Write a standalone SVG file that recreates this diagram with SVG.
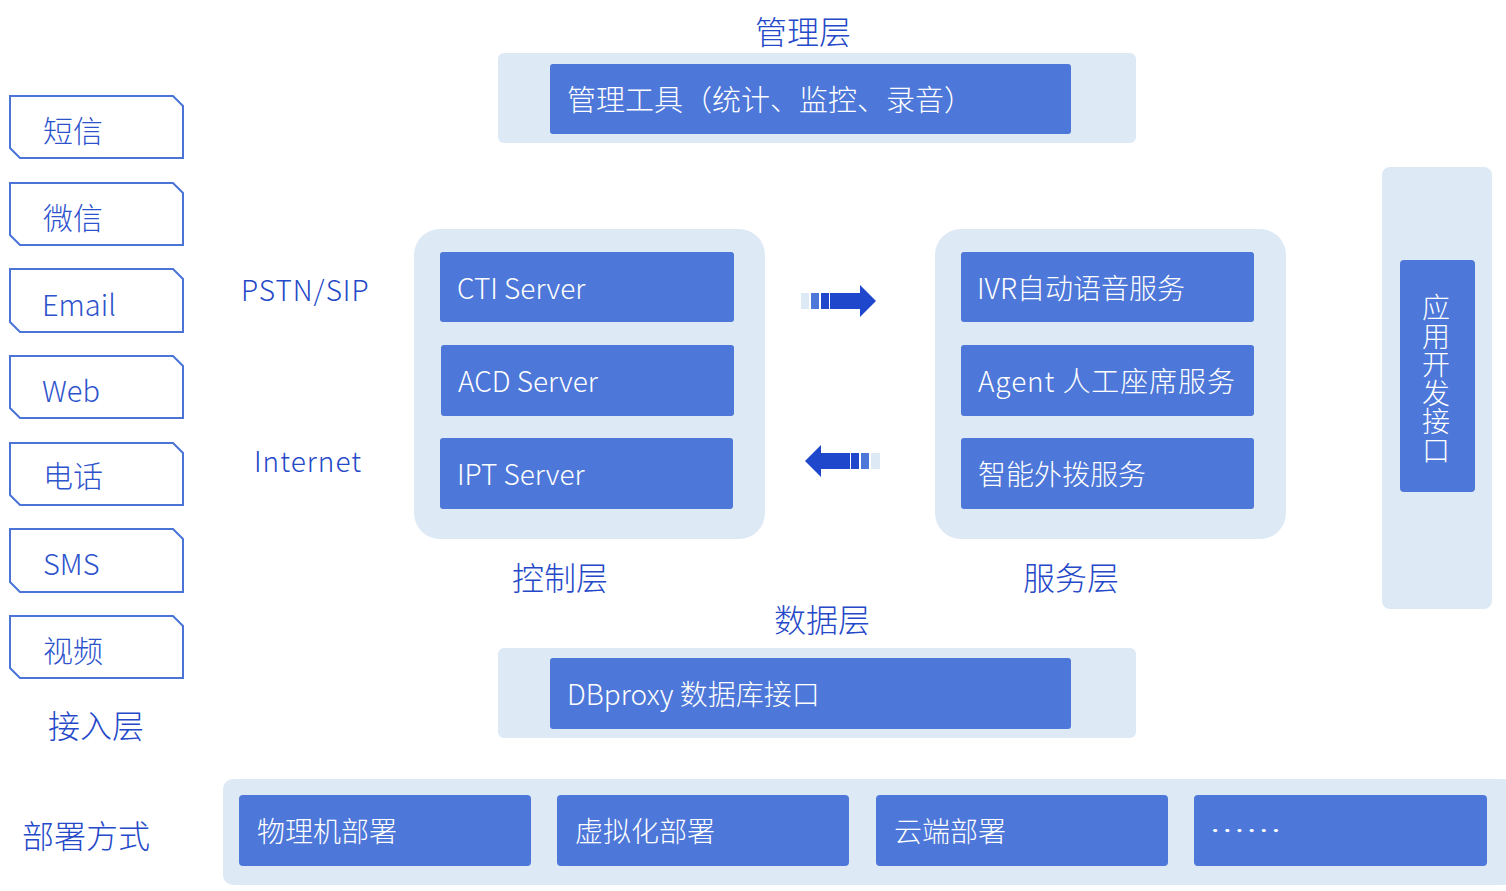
<svg xmlns="http://www.w3.org/2000/svg" width="1506" height="891" viewBox="0 0 1506 891">
<style>
.bg{fill:#DDE9F5}
.box{fill:#4D77D8}
.wt{fill:#FFFFFF;font-family:"Noto Sans CJK SC","Noto Sans",sans-serif;font-size:28px;font-weight:300}
.tt{fill:#2448C8;font-family:"Noto Sans CJK SC","Noto Sans",sans-serif;font-size:32px;font-weight:300}
.lb{fill:#2448C8;font-family:"Noto Sans CJK SC","Noto Sans",sans-serif;font-size:28px;font-weight:300}
.ch{fill:#FFFFFF;stroke:#4A74D6;stroke-width:2}
.ct{fill:#2D53CC;font-family:"Noto Sans CJK SC","Noto Sans",sans-serif;font-size:29px;font-weight:300}
.cz{font-size:30px}
</style>
<rect width="1506" height="891" fill="#FFFFFF"/>

<g id="access-layer">
  <g id="ch-sms-cn"><path class="ch" d="M10,96 H173 L183,106 V158 H20 L10,148 Z"/><text class="ct cz" x="43" y="142">短信</text></g>
  <g id="ch-wechat"><path class="ch" d="M10,183 H173 L183,193 V245 H20 L10,235 Z"/><text class="ct cz" x="43" y="229">微信</text></g>
  <g id="ch-email"><path class="ch" d="M10,269 H173 L183,279 V332 H20 L10,322 Z"/><text class="ct" x="42" y="316">Email</text></g>
  <g id="ch-web"><path class="ch" d="M10,356 H173 L183,366 V418 H20 L10,408 Z"/><text class="ct" x="42" y="402">Web</text></g>
  <g id="ch-phone"><path class="ch" d="M10,443 H173 L183,453 V505 H20 L10,495 Z"/><text class="ct cz" x="43" y="487">电话</text></g>
  <g id="ch-sms"><path class="ch" d="M10,529 H173 L183,539 V592 H20 L10,582 Z"/><text class="ct" x="43" y="575">SMS</text></g>
  <g id="ch-video"><path class="ch" d="M10,616 H173 L183,626 V678 H20 L10,668 Z"/><text class="ct cz" x="43" y="662">视频</text></g>
  <text class="tt" x="48" y="738">接入层</text>
</g>

<g id="network-labels">
  <text class="lb" x="241" y="301" letter-spacing="1">PSTN/SIP</text>
  <text class="lb" x="254" y="472" letter-spacing="1">Internet</text>
</g>

<g id="management-layer">
  <text class="tt" x="803" y="44" text-anchor="middle">管理层</text>
  <rect class="bg" x="498" y="53" width="638" height="90" rx="6"/>
  <rect class="box" x="550" y="64" width="521" height="70" rx="3"/>
  <text class="wt" x="567" y="111" style="font-size:29px">管理工具（统计、监控、录音）</text>
</g>

<g id="control-layer">
  <rect class="bg" x="414" y="229" width="351" height="310" rx="26"/>
  <rect class="box" x="440" y="252" width="294" height="70" rx="3"/>
  <text class="wt" x="457" y="299">CTI Server</text>
  <rect class="box" x="441" y="345" width="293" height="71" rx="3"/>
  <text class="wt" x="458" y="392">ACD Server</text>
  <rect class="box" x="440" y="438" width="293" height="71" rx="3"/>
  <text class="wt" x="457" y="485">IPT Server</text>
  <text class="tt" x="512" y="590">控制层</text>
</g>

<g id="service-layer">
  <rect class="bg" x="935" y="229" width="351" height="310" rx="26"/>
  <rect class="box" x="961" y="252" width="293" height="70" rx="3"/>
  <text class="wt" x="977" y="299">IVR自动语音服务</text>
  <rect class="box" x="961" y="345" width="293" height="71" rx="3"/>
  <text class="wt" x="978" y="392" letter-spacing="0.9">Agent 人工座席服务</text>
  <rect class="box" x="961" y="438" width="293" height="71" rx="3"/>
  <text class="wt" x="978" y="485">智能外拨服务</text>
  <text class="tt" x="1023" y="590">服务层</text>
</g>

<g id="connectors">
  <g id="arrow-right">
    <rect x="801" y="293" width="8" height="16" fill="#DDE9F5"/>
    <rect x="811" y="293" width="8" height="16" fill="#4D77D8"/>
    <rect x="821" y="293" width="8" height="16" fill="#1F47CC"/>
    <path d="M830,293 H860 V285 L876,301 L860,317 V309 H830 Z" fill="#1F47CC"/>
  </g>
  <g id="arrow-left">
    <rect x="871" y="453" width="9" height="16" fill="#DDE9F5"/>
    <rect x="861" y="453" width="8" height="16" fill="#4D77D8"/>
    <rect x="851" y="453" width="8" height="16" fill="#1F47CC"/>
    <path d="M850,453 H821 V445 L805,461 L821,477 V469 H850 Z" fill="#1F47CC"/>
  </g>
</g>

<g id="api-interface">
  <rect class="bg" x="1382" y="167" width="110" height="442" rx="8"/>
  <rect class="box" x="1400" y="260" width="75" height="232" rx="4"/>
  <text class="wt" x="1436" y="379" text-anchor="middle" writing-mode="vertical-rl" letter-spacing="0.5">应用开发接口</text>
</g>

<g id="data-layer">
  <text class="tt" x="822" y="632" text-anchor="middle">数据层</text>
  <rect class="bg" x="498" y="648" width="638" height="90" rx="6"/>
  <rect class="box" x="550" y="658" width="521" height="71" rx="3"/>
  <text class="wt" x="567" y="705">DBproxy 数据库接口</text>
</g>

<g id="deployment">
  <text class="tt" x="22" y="848">部署方式</text>
  <rect class="bg" x="223" y="779" width="1290" height="106" rx="10"/>
  <rect class="box" x="239" y="795" width="292" height="71" rx="4"/>
  <text class="wt" x="257" y="842">物理机部署</text>
  <rect class="box" x="557" y="795" width="292" height="71" rx="4"/>
  <text class="wt" x="575" y="842">虚拟化部署</text>
  <rect class="box" x="876" y="795" width="292" height="71" rx="4"/>
  <text class="wt" x="894" y="842">云端部署</text>
  <rect class="box" x="1194" y="795" width="293" height="71" rx="4"/>
  <text class="wt" x="1209" y="842" font-weight="700" textLength="73" lengthAdjust="spacingAndGlyphs">……</text>
</g>
</svg>
